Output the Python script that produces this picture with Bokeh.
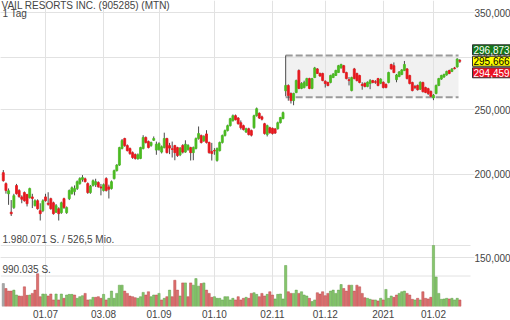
import numpy as np
from bokeh.plotting import figure
from bokeh.models import (Range1d, FixedTicker, Label, ColumnDataSource, Grid,
                          LinearScale)
from bokeh.embed import file_html
from bokeh.resources import INLINE

# ---- data (prices in thousand USD, volumes in thousand shares) ----
opens_k = [201.2,193.7,187.0,175.5,178.3,192.4,189.1,185.0,187.8,186.5,
184.5,185.0,179.5,182.6,176.4,176.4,185.0,181.0,183.9,181.3,
175.5,177.6,175.2,183.9,175.2,183.9,187.1,188.5,190.4,193.7,
196.5,197.0,193.7,187.8,192.4,193.0,194.5,191.5,189.1,197.1,
191.5,190.4,197.1,202.6,206.5,218.7,226.4,220.9,218.7,215.6,
214.2,211.0,211.3,218.7,227.2,224.0,221.0,225.0,217.5,218.0,
216.0,219.4,226.4,220.9,218.5,220.9,219.4,214.0,221.0,216.0,
218.0,219.4,215.6,218.7,226.4,228.7,224.5,230.0,223.3,216.5,
217.2,209.8,217.1,223.3,228.7,232.7,236.7,240.8,245.0,243.0,
239.1,236.7,231.5,234.2,232.7,235.0,245.0,247.0,244.0,238.3,
229.5,235.0,234.5,234.0,234.2,239.1,242.5,267.0,271.9,264.5,
258.1,265.4,286.4,269.2,270.0,271.9,278.5,269.2,279.5,288.0,
283.5,283.5,276.0,274.8,274.8,279.5,281.5,284.4,289.0,291.2,
284.4,277.5,267.2,288.0,283.5,281.5,273.0,274.0,271.0,273.8,
276.6,275.5,278.5,274.0,275.0,273.0,274.8,292.4,291.2,277.5,
280.5,282.5,286.4,288.0,281.5,274.8,271.0,272.0,268.5,274.8,
270.0,269.0,266.5,260.5,264.5,272.0,278.0,280.0,282.0,286.4,
285.5,289.0,290.0,296.5]
closes_k = [195.7,189.1,189.0,174.5,185.8,187.1,185.2,183.5,182.6,180.7,
190.4,184.0,182.6,177.6,174.6,182.6,182.6,180.3,177.6,174.6,
179.5,174.6,181.3,178.3,178.3,189.1,191.0,190.4,195.0,197.1,
197.8,195.0,187.8,192.0,195.7,195.0,191.6,190.8,193.0,189.1,
190.0,195.0,202.6,206.5,219.4,224.8,220.9,217.1,214.9,212.0,
211.3,214.0,219.4,227.2,223.3,219.4,223.3,226.4,222.0,222.5,
220.0,226.4,215.6,219.0,218.0,215.6,213.4,219.0,216.0,222.0,
221.0,215.6,219.4,226.4,230.3,223.3,228.0,223.3,215.6,214.9,
216.8,218.7,223.3,228.7,232.7,236.7,242.5,245.0,241.6,238.3,
235.0,233.5,234.2,229.5,229.0,245.0,251.0,243.0,242.0,230.3,
236.7,231.0,230.3,230.7,239.1,243.4,247.6,272.0,262.6,258.1,
264.5,276.6,269.2,273.8,274.8,278.5,269.2,278.5,289.0,283.5,
281.0,276.6,273.8,271.9,281.5,283.0,286.4,291.2,292.4,284.4,
278.5,276.6,279.5,278.5,276.6,274.8,271.9,271.0,275.0,276.6,
274.8,275.0,271.9,278.0,270.0,270.0,284.4,288.0,284.4,282.0,
285.0,287.0,292.4,278.5,273.8,267.2,270.0,268.0,275.0,266.2,
265.5,264.5,262.0,263.0,272.0,278.5,281.5,282.5,285.5,283.5,
288.0,288.3,298.0,295.666]
highs_k = [203.0,194.5,190.5,183.0,187.0,193.5,190.0,186.0,188.5,187.0,
191.0,187.0,183.5,183.5,181.0,183.5,187.0,188.0,184.5,182.0,
180.5,178.5,182.0,184.5,179.0,189.8,191.8,192.5,195.8,198.0,
199.5,197.8,194.5,192.8,196.5,197.0,195.2,193.5,193.8,198.0,
193.0,195.8,203.3,207.2,220.0,226.0,227.0,221.8,219.5,216.5,
215.0,215.0,220.0,229.0,228.0,224.8,224.0,228.0,224.0,223.5,
221.0,231.0,227.0,223.0,224.0,221.5,220.0,219.8,222.0,225.0,
222.0,220.0,220.2,227.2,236.0,229.5,229.0,233.0,224.0,223.0,
219.0,219.5,224.0,229.5,233.5,237.5,243.2,246.0,246.0,243.8,
241.0,237.5,235.0,235.0,233.5,245.8,252.0,247.8,245.0,239.0,
237.5,235.8,235.2,234.8,240.0,244.0,248.5,301.7,273.0,265.5,
265.2,277.5,287.5,275.0,276.5,279.3,279.3,279.2,290.0,288.8,
284.3,284.2,276.8,275.5,282.2,283.8,287.2,292.0,293.2,292.0,
285.2,280.0,280.3,289.0,284.2,282.2,275.0,274.8,275.8,278.0,
277.3,277.0,279.2,278.8,275.8,273.8,285.2,293.2,294.5,283.0,
285.8,287.8,296.0,288.8,282.2,275.5,272.5,272.8,275.8,275.5,
270.8,269.8,267.2,264.0,272.8,279.2,282.2,283.3,286.2,287.2,
288.8,290.0,298.8,298.0]
lows_k = [195.0,187.1,180.0,173.2,177.5,186.5,184.5,181.0,182.0,179.0,
184.0,178.0,179.0,177.0,170.5,175.5,182.0,179.5,177.0,174.0,
175.0,170.5,174.5,177.5,174.5,183.0,186.5,186.0,189.5,193.0,
195.0,194.5,187.0,187.0,191.8,191.5,191.0,186.0,188.5,188.5,
184.0,189.8,196.5,202.0,206.0,218.0,220.0,216.5,214.0,211.0,
210.5,210.5,210.8,218.0,222.5,218.8,220.0,224.5,214.0,217.0,
215.0,218.8,215.0,214.5,212.0,210.0,212.5,213.0,215.0,215.5,
217.0,209.8,210.0,218.0,225.5,222.5,223.8,222.5,214.8,209.8,
214.0,209.0,216.5,222.5,228.0,232.0,236.0,240.0,241.0,237.5,
233.5,232.8,230.8,228.8,228.0,234.2,244.2,242.2,241.0,229.5,
228.0,230.2,229.5,230.0,233.5,238.5,242.0,262.0,258.0,255.5,
254.0,264.8,268.5,268.5,269.2,271.2,268.5,268.5,279.0,283.0,
280.3,276.0,270.0,271.2,274.0,279.0,281.0,284.0,288.3,283.8,
277.8,272.0,266.5,277.8,275.8,274.0,268.0,270.2,270.3,268.5,
274.0,273.5,271.2,273.2,269.2,269.3,274.0,287.3,283.8,275.0,
279.8,281.8,285.8,277.8,273.0,266.5,268.5,267.2,267.8,265.5,
264.8,263.2,261.5,258.5,263.8,271.3,277.3,279.3,281.3,282.8,
284.8,287.5,289.3,294.0]
volumes_k = [745,585,500,500,532,373,341,335,639,362,
373,426,532,1065,319,405,400,341,405,213,
405,213,405,266,373,394,394,373,266,319,
351,426,213,220,298,298,319,266,394,213,
266,500,266,426,692,692,500,426,341,319,
287,266,319,458,373,479,319,373,373,426,
213,266,319,532,319,852,532,341,766,766,
319,766,692,905,660,745,766,532,426,298,
319,266,266,213,319,319,213,266,213,319,
213,266,298,266,426,447,394,319,426,341,
394,479,373,245,394,405,245,1331,479,426,
426,532,426,479,373,341,266,160,213,447,
405,479,351,426,500,532,426,532,713,585,
500,692,692,500,692,639,426,287,266,234,
213,213,181,266,213,554,266,341,298,373,
426,479,500,426,373,234,213,266,213,479,
266,245,298,1980.071,958,426,234,245,266,245,
266,213,266,213]

tick_idx = [16, 38, 59, 80, 102, 122, 144, 163]
tick_labels = ["01.07", "03.08", "01.09", "01.10", "02.11", "01.12", "2021", "01.02"]
price_ticks = [150000, 200000, 250000, 300000, 350000]
vol_lines = [990035, 1980071]
vol_texts = ["990.035 S.", "1.980.071 S. / 526,5 Mio."]
quote_vals = [296873, 295666, 294459]
quote_texts = ["296,873", "295,666", "294,459"]
range_box = dict(start=107, end=172.5, low=261000, high=301700)
title_text = "VAIL RESORTS INC. (905285) (MTN)"
period_text = "1 Tag"

FONT = "Liberation Sans"
TXT = "#444444"
GRID = "#e2e2e2"

o = np.array(opens_k) * 1000
c = np.array(closes_k) * 1000
h = np.array(highs_k) * 1000
l = np.array(lows_k) * 1000
v = np.array(volumes_k) * 1000
N = len(o)
idx = np.arange(N)

W, FH = 510, 306          # frame spans the full width; price labels are drawn inside it
PLOT_R = 470              # right edge of the chart area (px)
PX_PER_DAY = 2.639
x0 = -2.8 / PX_PER_DAY
x_plot_end = x0 + PLOT_R / PX_PER_DAY

p = figure(width=W, height=320, output_backend="svg", toolbar_location=None,
           y_axis_type="log", y_axis_location=None,
           x_range=Range1d(x0, x0 + W / PX_PER_DAY),
           y_range=Range1d(350000 * 10 ** (-(FH - 12) / 666.0), 350000 * 10 ** (12 / 666.0)),
           min_border_left=0, min_border_top=0, min_border_right=0, min_border_bottom=0)
p.outline_line_color = None
p.background_fill_color = "white"
p.border_fill_color = "white"
p.extra_y_ranges = {"vol": Range1d(0, 1980071 * FH / 61.0)}
p.extra_y_scales = {"vol": LinearScale()}

xa = p.xaxis[0]
xa.ticker = FixedTicker(ticks=tick_idx)
xa.major_label_overrides = {t: lab for t, lab in zip(tick_idx, tick_labels)}
xa.axis_line_color = None
xa.major_tick_out = 0
xa.major_tick_in = 0
xa.minor_tick_out = 0
xa.minor_tick_in = 0
xa.major_label_standoff = 3
xa.major_label_text_font = FONT
xa.major_label_text_font_size = "10px"
xa.major_label_text_color = TXT

p.xgrid.grid_line_color = GRID
p.add_layout(Grid(dimension=1, ticker=FixedTicker(ticks=price_ticks), grid_line_color=GRID))

# volume guide lines (stop at the chart's right edge)
p.segment(x0=[x0] * 2, x1=[x_plot_end] * 2, y0=vol_lines, y1=vol_lines,
          y_range_name="vol", line_color=GRID, line_width=1)

# consolidation range box
p.quad(left=[range_box["start"]], right=[range_box["end"]],
       bottom=[range_box["low"]], top=[range_box["high"]],
       fill_color="#e0e0e0", fill_alpha=0.45, line_color=None)
p.segment(x0=[range_box["start"]] * 2, x1=[range_box["end"]] * 2,
          y0=[range_box["high"], range_box["low"]], y1=[range_box["high"], range_box["low"]],
          line_color="#9a9a9a", line_width=2, line_dash="7 3")

# volume
vfill = ["#a8a8a8"] + ["#86c66c" if c[i] >= c[i - 1] else "#dd6f6f" for i in range(1, N)]
vline = ["#888888"] + ["#5f9e48" if c[i] >= c[i - 1] else "#b84a4a" for i in range(1, N)]
vsrc = ColumnDataSource(dict(x=idx, top=v, fc=vfill, lc=vline))
p.vbar(x="x", top="top", bottom=0, width=0.85, source=vsrc, y_range_name="vol",
       fill_color="fc", line_color="lc", line_width=0.5)

# candles
up = c >= o
ccol = np.where(up, "#4bbb22", "#e6191e")
csrc = ColumnDataSource(dict(x=idx, hi=h, lo=l, top=np.maximum(o, c), bot=np.minimum(o, c), col=ccol))
p.segment(x0="x", x1="x", y0="lo", y1="hi", source=csrc, line_color="#4a4a4a", line_width=1)
p.vbar(x="x", top="top", bottom="bot", width=0.75, source=csrc,
       fill_color="col", line_color="col", line_width=0.8)

# volume texts
for lv, tx in zip(vol_lines, vol_texts):
    p.add_layout(Label(x=2, x_units="screen", y=lv, y_range_name="vol", y_offset=1,
                       text=tx, text_font=FONT, text_font_size="10px", text_color=TXT,
                       text_baseline="bottom"))
# title texts (anchored to frame top)
p.add_layout(Label(x=1, x_units="screen", y=p.y_range.end, y_offset=-5, text=title_text,
                   text_font=FONT, text_font_size="10px", text_color=TXT, text_baseline="alphabetic"))
p.add_layout(Label(x=2, x_units="screen", y=p.y_range.end, y_offset=-13, text=period_text,
                   text_font=FONT, text_font_size="10px", text_color=TXT, text_baseline="alphabetic"))

# price scale labels (right side)
for t in price_ticks:
    p.add_layout(Label(x=PLOT_R + 4, x_units="screen", y=t, text=f"{t:,}",
                       text_font=FONT, text_font_size="10px", text_color=TXT,
                       text_baseline="middle", text_align="left",
                       background_fill_color="white", padding=0))

# quote tags
tag_bg = ["#16791a", "#ffff00", "#ea1023"]
tag_fg = ["white", "black", "white"]
tag_off = [11.5, 0, -11.5]
for bg, fg, off, tx in zip(tag_bg, tag_fg, tag_off, quote_texts):
    p.add_layout(Label(x=PLOT_R + 2, x_units="screen", y=quote_vals[1], y_offset=off,
                       text=tx, text_font=FONT, text_font_size="10px", text_color=fg,
                       text_baseline="middle", text_align="left",
                       background_fill_color=bg, border_line_color="#333333", padding=1))

open("out.html", "w").write(file_html(p, INLINE))
